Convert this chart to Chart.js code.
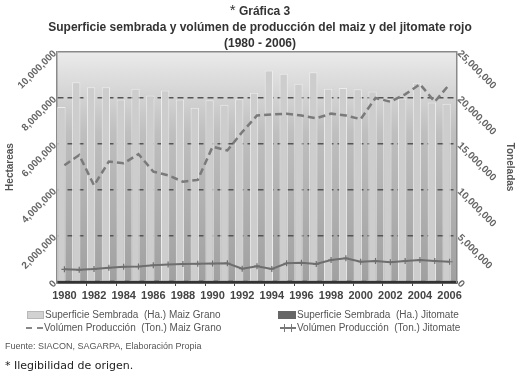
<!DOCTYPE html>
<html>
<head>
<meta charset="utf-8">
<script src="https://cdn.jsdelivr.net/npm/chart.js@4"></script>
<style>
  body { margin: 0; background: #fff; }
  #wrap { position: relative; width: 520px; height: 385px; overflow: hidden; font-family: "Liberation Sans", Arial, sans-serif; }
  #chart { position: absolute; left: 0; top: 0; }
  .t { position: absolute; left: 0; width: 520px; text-align: center; font-weight: bold; color: #333; font-size: 12px; line-height: 14px; }
  .leg { position: absolute; font-size: 10px; color: #555; line-height: 12px; white-space: pre; }
  .sym { display: inline-block; vertical-align: middle; margin-right: 1px; position: relative; }
  .note { position: absolute; left: 5px; white-space: pre; }
</style>
</head>
<body>
<div id="wrap">
  <canvas id="chart" width="520" height="385"></canvas>
  <div class="t" style="top:3px"><span style="font-weight:normal;font-size:15px">*</span> Gráfica 3</div>
  <div class="t" style="top:20px">Superficie sembrada y volúmen de producción del maiz y del jitomate rojo</div>
  <div class="t" style="top:36px">(1980 - 2006)</div>

  <div class="leg" style="left:27px;top:309px"><span class="sym" style="width:15px;height:6px;background:#d2d2d2;border:1px solid #b8b8b8"></span>Superficie Sembrada  (Ha.) Maiz Grano</div>
  <div class="leg" style="left:278px;top:309px"><span class="sym" style="width:18px;height:8px;background:#666"></span>Superficie Sembrada  (Ha.) Jitomate</div>
  <div class="leg" style="left:26px;top:322px"><span class="sym" style="width:17px;height:0;border-top:2px dashed #888"></span>Volúmen Producción  (Ton.) Maiz Grano</div>
  <div class="leg" style="left:280px;top:322px"><span class="sym" style="width:16px;height:2px;background:#777"><span style="position:absolute;left:4px;top:-3px;width:1px;height:8px;background:#777"></span><span style="position:absolute;left:11px;top:-3px;width:1px;height:8px;background:#777"></span></span>Volúmen Producción  (Ton.) Jitomate</div>

  <div class="note" style="top:341px;font-size:9px;color:#555">Fuente: SIACON, SAGARPA, Elaboración Propia</div>
  <div class="note" style="top:359px;font-size:11px;color:#222;font-family:'DejaVu Sans',sans-serif">* Ilegibilidad de origen.</div>
</div>

<script>
const years = ['1980','1981','1982','1983','1984','1985','1986','1987','1988','1989','1990','1991','1992','1993',
  '1994','1995','1996','1997','1998','1999','2000','2001','2002','2003','2004','2005','2006'];

// superficie sembrada (ha), eje izquierdo
const areaMaiz = [7610000, 8690000, 8470000, 8470000, 7930000, 8400000, 8110000, 8330000, 7930000, 7580000,
  7900000, 7710000, 7950000, 8230000, 9200000, 9050000, 8620000, 9120000, 8400000, 8430000,
  8380000, 8280000, 7950000, 7980000, 8660000, 7800000, 7750000];
const areaJitomate = [72000, 68000, 75000, 80000, 78000, 76000, 82000, 79000, 74000, 85000,
  80000, 78000, 72000, 70000, 75000, 82000, 80000, 76000, 78000, 80000,
  74000, 72000, 70000, 68000, 70000, 72000, 70000];

// volumen de produccion (ton), eje derecho
const prodMaiz = [12700000, 13800000, 10500000, 13100000, 12900000, 13900000, 12000000, 11600000, 10900000, 11100000,
  14700000, 14300000, 16300000, 18100000, 18200000, 18300000, 18100000, 17800000, 18300000, 18100000,
  17700000, 20000000, 19600000, 20400000, 21500000, 19600000, 21500000];
const prodJitomate = [1380000, 1320000, 1400000, 1550000, 1650000, 1680000, 1820000, 1900000, 1950000, 1980000,
  2000000, 2030000, 1450000, 1720000, 1420000, 2030000, 2100000, 1950000, 2390000, 2570000,
  2200000, 2280000, 2140000, 2280000, 2390000, 2280000, 2200000];

const fmt = v => Number(v).toLocaleString('en-US');

const fondo = {
  id: 'fondo',
  beforeDraw(chart) {
    const { ctx, chartArea: a } = chart;
    const g = ctx.createLinearGradient(0, a.top, 0, a.bottom);
    g.addColorStop(0, '#ebebeb');
    g.addColorStop(0.35, '#bfbfbf');
    g.addColorStop(1, '#a0a0a0');
    ctx.save();
    ctx.fillStyle = g;
    ctx.fillRect(a.left, a.top, a.width, a.height);
    ctx.restore();
  }
};

const ctx = document.getElementById('chart').getContext('2d');

new Chart(ctx, {
  type: 'bar',
  data: {
    labels: years,
    datasets: [{
      label: 'Superficie Sembrada (Ha.) Maiz Grano',
      data: areaMaiz,
      yAxisID: 'y',
      backgroundColor: '#cdcdcd',
      borderColor: '#ececec',
      borderWidth: { left: 1, right: 1, top: 1 },
      borderSkipped: 'bottom',
      categoryPercentage: 0.8,
      barPercentage: 1.4,
      order: 2
    }, {
      label: 'Superficie Sembrada (Ha.) Jitomate',
      data: areaJitomate,
      yAxisID: 'y',
      backgroundColor: '#666',
      categoryPercentage: 0.8,
      barPercentage: 0.9,
      order: 3
    }, {
      label: 'Volúmen Producción (Ton.) Maiz Grano',
      type: 'line',
      data: prodMaiz,
      yAxisID: 'y1',
      borderColor: '#7a7a7a',
      borderWidth: 2.5,
      borderDash: [7, 4],
      pointRadius: 0,
      tension: 0,
      order: 1
    }, {
      label: 'Volúmen Producción (Ton.) Jitomate',
      type: 'line',
      data: prodJitomate,
      yAxisID: 'y1',
      borderColor: '#6e6e6e',
      borderWidth: 2,
      pointStyle: 'cross',
      pointRadius: 3,
      pointBorderWidth: 1.2,
      pointBorderColor: '#6e6e6e',
      tension: 0,
      order: 0
    }]
  },
  options: {
    responsive: false,
    animation: false,
    layout: { padding: { top: 52, bottom: 81, left: 0, right: 0 } },
    plugins: {
      legend: { display: false },
      tooltip: { enabled: false }
    },
    scales: {
      x: {
        offset: true,
        grid: {
          offset: true,
          drawOnChartArea: false,
          tickLength: 4,
          color: c => (c.index % 2 === 0 && c.index > 0 && c.index < years.length) ? '#444' : 'rgba(0,0,0,0)'
        },
        border: { color: '#333', width: 2.5 },
        ticks: {
          autoSkip: false,
          maxRotation: 0,
          minRotation: 0,
          padding: 3,
          color: '#444',
          font: { family: 'Liberation Sans', size: 11, weight: 'bold' },
          callback: (v, i) => i % 2 === 0 ? years[i] : ''
        },
        afterFit: s => { s.height = 22; }
      },
      y: {
        position: 'left',
        min: 0,
        max: 10000000,
        ticks: {
          stepSize: 2000000,
          minRotation: 45,
          maxRotation: 45,
          padding: 2,
          color: '#666',
          font: { family: 'Liberation Sans', size: 10, weight: 'bold' },
          callback: v => fmt(v)
        },
        grid: {
          drawTicks: false,
          color: c => c.tick && c.tick.value === 0 ? '#333' : (c.tick && c.tick.value === 10000000 ? '#8a8a8a' : '#555'),
          lineWidth: c => c.tick && c.tick.value === 0 ? 2.5 : 1.5
        },
        border: {
          color: '#8a8a8a',
          width: 1.5,
          dash: c => (c.tick && c.tick.value !== 0 && c.tick.value !== 10000000) ? [6, 4] : []
        },
        title: {
          display: true,
          text: 'Hectareas',
          color: '#555',
          font: { family: 'Liberation Sans', size: 10, weight: 'bold' }
        },
        afterFit: s => { s.width = 57; }
      },
      y1: {
        position: 'right',
        min: 0,
        max: 25000000,
        ticks: {
          stepSize: 5000000,
          minRotation: -45,
          maxRotation: -45,
          padding: 2,
          color: '#666',
          font: { family: 'Liberation Sans', size: 10, weight: 'bold' },
          callback: v => fmt(v)
        },
        grid: { drawOnChartArea: false, drawTicks: false },
        border: { color: '#8a8a8a', width: 1.5 },
        title: {
          display: true,
          text: 'Toneladas',
          color: '#555',
          font: { family: 'Liberation Sans', size: 10, weight: 'bold' }
        },
        afterFit: s => { s.width = 63; }
      }
    }
  },
  plugins: [fondo]
});
</script>
</body>
</html>
